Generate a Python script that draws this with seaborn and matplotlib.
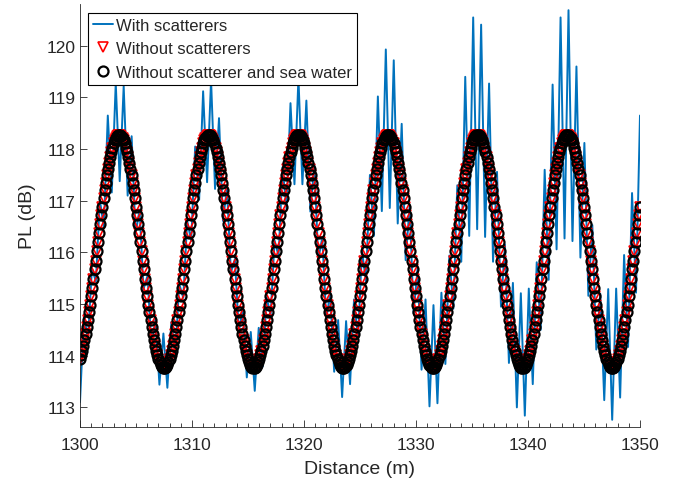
import numpy as np
import matplotlib
matplotlib.use("Agg")
import matplotlib.pyplot as plt
import seaborn as sns
from matplotlib.ticker import MultipleLocator

# path loss, every 0.1 m from 1300 to 1350 (both "without" cases overlap)
pl_no_scat = [
    113.93, 114.01, 114.09, 114.19, 114.30, 114.42, 114.55, 114.69, 114.84, 114.99,
    115.16, 115.32, 115.49, 115.67, 115.84, 116.02, 116.20, 116.37, 116.55, 116.72,
    116.88, 117.05, 117.20, 117.35, 117.49, 117.62, 117.74, 117.85, 117.95, 118.03,
    118.11, 118.17, 118.22, 118.25, 118.27, 118.28, 118.27, 118.25, 118.22, 118.17,
    118.11, 118.03, 117.95, 117.85, 117.74, 117.62, 117.49, 117.35, 117.20, 117.05,
    116.88, 116.72, 116.55, 116.37, 116.20, 116.02, 115.84, 115.67, 115.49, 115.32,
    115.16, 114.99, 114.84, 114.69, 114.55, 114.42, 114.30, 114.19, 114.09, 114.01,
    113.93, 113.87, 113.82, 113.79, 113.77, 113.76, 113.77, 113.79, 113.82, 113.87,
    113.93, 114.01, 114.09, 114.19, 114.30, 114.42, 114.55, 114.69, 114.84, 114.99,
    115.16, 115.32, 115.49, 115.67, 115.84, 116.02, 116.20, 116.37, 116.55, 116.72,
    116.88, 117.05, 117.20, 117.35, 117.49, 117.62, 117.74, 117.85, 117.95, 118.03,
    118.11, 118.17, 118.22, 118.25, 118.27, 118.28, 118.27, 118.25, 118.22, 118.17,
    118.11, 118.03, 117.95, 117.85, 117.74, 117.62, 117.49, 117.35, 117.20, 117.05,
    116.88, 116.72, 116.55, 116.37, 116.20, 116.02, 115.84, 115.67, 115.49, 115.32,
    115.16, 114.99, 114.84, 114.69, 114.55, 114.42, 114.30, 114.19, 114.09, 114.01,
    113.93, 113.87, 113.82, 113.79, 113.77, 113.76, 113.77, 113.79, 113.82, 113.87,
    113.93, 114.01, 114.09, 114.19, 114.30, 114.42, 114.55, 114.69, 114.84, 114.99,
    115.16, 115.32, 115.49, 115.67, 115.84, 116.02, 116.20, 116.37, 116.55, 116.72,
    116.88, 117.05, 117.20, 117.35, 117.49, 117.62, 117.74, 117.85, 117.95, 118.03,
    118.11, 118.17, 118.22, 118.25, 118.27, 118.28, 118.27, 118.25, 118.22, 118.17,
    118.11, 118.03, 117.95, 117.85, 117.74, 117.62, 117.49, 117.35, 117.20, 117.05,
    116.88, 116.72, 116.55, 116.37, 116.20, 116.02, 115.84, 115.67, 115.49, 115.32,
    115.16, 114.99, 114.84, 114.69, 114.55, 114.42, 114.30, 114.19, 114.09, 114.01,
    113.93, 113.87, 113.82, 113.79, 113.77, 113.76, 113.77, 113.79, 113.82, 113.87,
    113.93, 114.01, 114.09, 114.19, 114.30, 114.42, 114.55, 114.69, 114.84, 114.99,
    115.16, 115.32, 115.49, 115.67, 115.84, 116.02, 116.20, 116.37, 116.55, 116.72,
    116.88, 117.05, 117.20, 117.35, 117.49, 117.62, 117.74, 117.85, 117.95, 118.03,
    118.11, 118.17, 118.22, 118.25, 118.27, 118.28, 118.27, 118.25, 118.22, 118.17,
    118.11, 118.03, 117.95, 117.85, 117.74, 117.62, 117.49, 117.35, 117.20, 117.05,
    116.88, 116.72, 116.55, 116.37, 116.20, 116.02, 115.84, 115.67, 115.49, 115.32,
    115.16, 114.99, 114.84, 114.69, 114.55, 114.42, 114.30, 114.19, 114.09, 114.01,
    113.93, 113.87, 113.82, 113.79, 113.77, 113.76, 113.77, 113.79, 113.82, 113.87,
    113.93, 114.01, 114.09, 114.19, 114.30, 114.42, 114.55, 114.69, 114.84, 114.99,
    115.16, 115.32, 115.49, 115.67, 115.84, 116.02, 116.20, 116.37, 116.55, 116.72,
    116.88, 117.05, 117.20, 117.35, 117.49, 117.62, 117.74, 117.85, 117.95, 118.03,
    118.11, 118.17, 118.22, 118.25, 118.27, 118.28, 118.27, 118.25, 118.22, 118.17,
    118.11, 118.03, 117.95, 117.85, 117.74, 117.62, 117.49, 117.35, 117.20, 117.05,
    116.88, 116.72, 116.55, 116.37, 116.20, 116.02, 115.84, 115.67, 115.49, 115.32,
    115.16, 114.99, 114.84, 114.69, 114.55, 114.42, 114.30, 114.19, 114.09, 114.01,
    113.93, 113.87, 113.82, 113.79, 113.77, 113.76, 113.77, 113.79, 113.82, 113.87,
    113.93, 114.01, 114.09, 114.19, 114.30, 114.42, 114.55, 114.69, 114.84, 114.99,
    115.16, 115.32, 115.49, 115.67, 115.84, 116.02, 116.20, 116.37, 116.55, 116.72,
    116.88, 117.05, 117.20, 117.35, 117.49, 117.62, 117.74, 117.85, 117.95, 118.03,
    118.11, 118.17, 118.22, 118.25, 118.27, 118.28, 118.27, 118.25, 118.22, 118.17,
    118.11, 118.03, 117.95, 117.85, 117.74, 117.62, 117.49, 117.35, 117.20, 117.05,
    116.88, 116.72, 116.55, 116.37, 116.20, 116.02, 115.84, 115.67, 115.49, 115.32,
    115.16, 114.99, 114.84, 114.69, 114.55, 114.42, 114.30, 114.19, 114.09, 114.01,
    113.93, 113.87, 113.82, 113.79, 113.77, 113.76, 113.77, 113.79, 113.82, 113.87,
    113.93, 114.01, 114.09, 114.19, 114.30, 114.42, 114.55, 114.69, 114.84, 114.99,
    115.16, 115.32, 115.49, 115.67, 115.84, 116.02, 116.20, 116.37, 116.55, 116.72,
    116.88,
]
pl_no_water = list(pl_no_scat)

# with scatterers, read every ~0.355 m (alternating spikes)
pl_scat = [
    113.10, 114.80, 114.31, 115.69, 115.44, 117.02, 116.48, 118.65, 117.16, 119.28,
    117.38, 119.22, 117.10, 118.25, 116.36, 116.83, 115.29, 115.55, 114.17, 114.72,
    113.44, 114.43, 113.38, 114.65, 114.04, 115.39, 115.12, 116.61, 116.22, 118.05,
    117.02, 119.12, 117.36, 119.34, 117.23, 118.60, 116.61, 117.24, 115.61, 115.87,
    114.47, 114.90, 113.58, 114.46, 113.32, 114.54, 113.79, 115.13, 114.79, 116.23,
    115.93, 117.65, 116.84, 118.89, 117.32, 119.38, 117.32, 118.94, 116.79, 117.70,
    115.86, 116.29, 114.71, 115.21, 113.69, 114.69, 113.20, 114.67, 113.45, 115.09,
    114.34, 116.04, 115.43, 117.50, 116.32, 119.02, 116.80, 119.93, 116.86, 119.72,
    116.56, 118.49, 115.85, 116.91, 114.82, 115.70, 113.73, 115.09, 113.02, 114.98,
    113.08, 115.22, 113.84, 115.94, 114.91, 117.30, 115.82, 119.40, 116.32, 120.55,
    116.45, 120.41, 116.30, 119.27, 115.82, 117.56, 114.95, 116.15, 113.86, 115.41,
    113.00, 115.21, 112.84, 115.30, 113.45, 115.81, 114.50, 117.60, 115.47, 119.25,
    116.06, 120.55, 116.27, 120.69, 116.22, 119.60, 115.90, 118.12, 115.16, 116.53,
    114.12, 115.20, 113.14, 115.29, 112.76, 115.30, 113.19, 115.95, 114.17, 117.15,
    115.22, 118.65,
]

d_fine = np.linspace(1300, 1350, len(pl_no_scat))
d_scat = np.linspace(1300, 1350, len(pl_scat))

sns.set_style("ticks")
plt.rcParams["font.family"] = ["Liberation Sans", "DejaVu Sans"]

fig = plt.figure(figsize=(6.82, 4.85), dpi=100)
ax = fig.add_axes([0.1173, 0.1175, 0.8211, 0.8722])

sns.lineplot(x=d_scat, y=pl_scat, ax=ax, color="#0072BD", lw=1.4,
             label="With scatterers")
sns.lineplot(x=d_fine, y=pl_no_scat, ax=ax, linestyle="", marker="v", ms=7.5,
             markerfacecolor="none", markeredgecolor="red", mew=1.2,
             color="red", label="Without scatterers")
sns.lineplot(x=d_fine, y=pl_no_water, ax=ax, linestyle="", marker="o", ms=7.2,
             markerfacecolor="none", markeredgecolor="black", mew=1.6,
             color="black", label="Without scatterer and sea water")

ax.set_xlim(1300, 1350)
ax.set_ylim(112.62, 120.81)
ax.set_yticks(range(113, 121))
ax.xaxis.set_major_locator(MultipleLocator(10))
ax.xaxis.set_minor_locator(MultipleLocator(1))
ax.tick_params(which="both", direction="in", colors="#262626", labelsize=12.5)
ax.tick_params(which="major", length=5, width=0.6)
ax.tick_params(which="minor", length=3, width=0.6)
ax.tick_params(axis="x", which="major", pad=7)
ax.tick_params(axis="y", which="major", pad=3)
sns.despine(ax=ax)
for s in ["left", "bottom"]:
    ax.spines[s].set_color("#262626")
    ax.spines[s].set_linewidth(0.6)

ax.set_xlabel("Distance (m)", fontsize=14, color="#262626", labelpad=6)
ax.set_ylabel("PL (dB)", fontsize=14, color="#262626", labelpad=8)

leg = ax.legend(loc="upper left", bbox_to_anchor=(0.014, 0.979), borderaxespad=0,
                fontsize=12, frameon=True, fancybox=False, handlelength=1.2,
                handletextpad=0.2, labelspacing=0.5, borderpad=0.3)
leg.get_frame().set_edgecolor("black")
leg.get_frame().set_linewidth(0.8)
leg.get_frame().set_alpha(1)

fig.savefig("out.png", dpi=100)
